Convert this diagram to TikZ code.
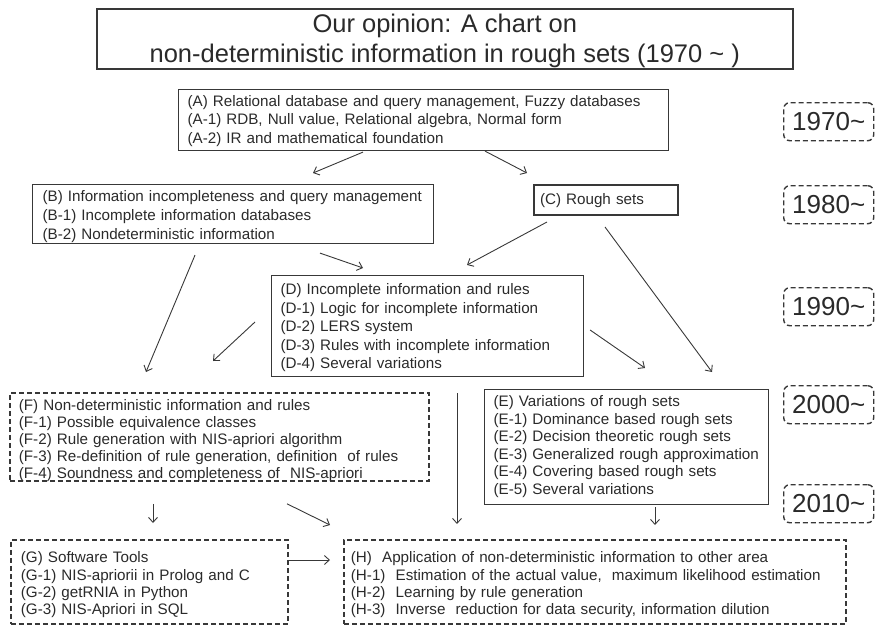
\documentclass[tikz,border=0pt]{standalone}
\usepackage{fontspec}
\setmainfont{Liberation Sans}
\usetikzlibrary{arrows.meta}
\definecolor{ink}{HTML}{2A2A2A}
\definecolor{rule}{HTML}{383838}
% left-aligned lines that never wrap; optional argument lowers them
\newcommand{\boxlines}[2][0pt]{\raisebox{-#1}[\height][\depth]{\begin{tabular}{@{}l@{}}#2\end{tabular}}}
\newcommand{\titlelines}[2][0pt]{\raisebox{-#1}[\height][\depth]{\begin{tabular}{@{}c@{}}#2\end{tabular}}}

\begin{document}
\begin{tikzpicture}[x=1pt,y=-1pt,
  every node/.style={text=ink},
  box/.style={draw=rule, line width=1.1pt, anchor=north west, inner ysep=0pt,
    align=left, font=\fontsize{15.2}{18.5}\selectfont},
  thickbox/.style={box, line width=2pt},
  dashbox/.style={box, line width=1.8pt, dash pattern=on 5pt off 3pt},
  yearbox/.style={draw=rule, line width=1.4pt, dash pattern=on 5pt off 3pt,
    rounded corners=6pt, anchor=north west, minimum width=90pt,
    minimum height=38pt, inner sep=0pt, font=\fontsize{26}{30}\selectfont},
  arr/.style={draw=rule, line width=0.9pt,
    -{Straight Barb[length=5pt,width=9pt]}}
]
\useasboundingbox (0,0) rectangle (875,626);

% title
\node[draw=rule, line width=1.6pt, anchor=north west, minimum width=696pt,
  minimum height=60pt, inner sep=0pt,
  font=\fontsize{25.5}{30}\selectfont] (title) at (96,8)
  {\titlelines[3pt]{Our opinion: A chart on\\non-deterministic information in rough sets (1970 \char`\~\ )}};

% periods
\node[yearbox] (y70) at (783,102) {1970\char`\~};
\node[yearbox] (y80) at (783,185) {1980\char`\~};
\node[yearbox] (y90) at (783,287) {1990\char`\~};
\node[yearbox] (y00) at (783,385) {2000\char`\~};
\node[yearbox] (y10) at (783,484) {2010\char`\~};

% topic boxes
\node[box, text width=472pt, inner xsep=9pt, minimum height=61pt] (A) at (178,89)
  {\boxlines[1pt]{(A) Relational database and query management, Fuzzy databases\\
   (A-1) RDB, Null value, Relational algebra, Normal form\\
   (A-2) IR and mathematical foundation}};

\node[box, text width=381pt, inner xsep=10pt, minimum height=59pt,
  font=\fontsize{15.2}{19}\selectfont] (B) at (32,184)
  {\boxlines[3pt]{(B) Information incompleteness and query management\\
   (B-1) Incomplete information databases\\
   (B-2) Nondeterministic information}};

\node[thickbox, text width=132pt, inner xsep=6pt, minimum height=30pt] (C) at (533,184)
  {\boxlines[1pt]{(C) Rough sets}};

\node[box, text width=294pt, inner xsep=9pt, minimum height=101pt] (D) at (271,275)
  {\boxlines[2pt]{(D) Incomplete information and rules\\
   (D-1) Logic for incomplete information\\
   (D-2) LERS system\\
   (D-3) Rules with incomplete information\\
   (D-4) Several variations}};

\node[box, text width=266pt, inner xsep=9pt, minimum height=115pt,
  font=\fontsize{15.2}{17.6}\selectfont] (E) at (484,389)
  {\boxlines{(E) Variations of rough sets\\
   (E-1) Dominance based rough sets\\
   (E-2) Decision theoretic rough sets\\
   (E-3) Generalized rough approximation\\
   (E-4) Covering based rough sets\\
   (E-5) Several variations}};

\node[dashbox, text width=401pt, inner xsep=9pt, minimum height=88pt,
  font=\fontsize{15.2}{17}\selectfont] (F) at (9,392)
  {\boxlines[4.5pt]{(F) Non-deterministic information and rules\\
   (F-1) Possible equivalence classes\\
   (F-2) Rule generation with NIS-apriori algorithm\\
   (F-3) Re-definition of rule generation, definition~ of rules\\
   (F-4) Soundness and completeness of~ NIS-apriori}};

\node[dashbox, text width=257pt, inner xsep=10pt, minimum height=84pt,
  font=\fontsize{15.2}{17.3}\selectfont] (G) at (10,539)
  {\boxlines[3.5pt]{(G) Software Tools\\
   (G-1) NIS-apriorii in Prolog and C\\
   (G-2) getRNIA in Python\\
   (G-3) NIS-Apriori in SQL}};

\node[dashbox, text width=488pt, inner xsep=7pt, minimum height=84pt,
  font=\fontsize{15.2}{17.3}\selectfont] (H) at (343,539)
  {\boxlines[3.5pt]{(H)~ Application of non-deterministic information to other area\\
   (H-1)~ Estimation of the actual value,~ maximum likelihood estimation\\
   (H-2)~ Learning by rule generation\\
   (H-3)~ Inverse~ reduction for data security, information dilution}};

% connectors
\draw[arr] ([shift={(185,1)}]A.south west) -- ([shift={(281,-11)}]B.north west);
\draw[arr] ([shift={(307,0)}]A.south west) -- ([shift={(-6,-11)}]C.north west);
\draw[arr] ([shift={(163,11)}]B.south west) -- ([shift={(137,-20)}]F.north west);
\draw[arr] ([shift={(288,9)}]B.south west) -- ([shift={(92,-7)}]D.north west);
\draw[arr] ([shift={(14,6)}]C.south west) -- ([shift={(196,-10)}]D.north west);
\draw[arr] ([shift={(72,11)}]C.south west) -- ([shift={(228,-17)}]E.north west);
\draw[arr] ([shift={(-16,47)}]D.north west) -- ([shift={(204,-31)}]F.north west);
\draw[arr] ([shift={(6,55)}]D.north east) -- ([shift={(161,-21)}]E.north west);
\draw[arr] ([shift={(186,16)}]D.south west) -- ([shift={(114,-15)}]H.north west);
\draw[arr] ([shift={(144,22)}]F.south west) -- ([shift={(143,-16)}]G.north west);
\draw[arr] ([shift={(278,22)}]F.south west) -- ([shift={(-13,-14)}]H.north west);
\draw[arr] ([shift={(171,2)}]E.south west) -- ([shift={(312,-14)}]H.north west);
\draw[arr] ([shift={(0,21)}]G.north east) -- ([shift={(-13,21)}]H.north west);
\end{tikzpicture}
\end{document}
